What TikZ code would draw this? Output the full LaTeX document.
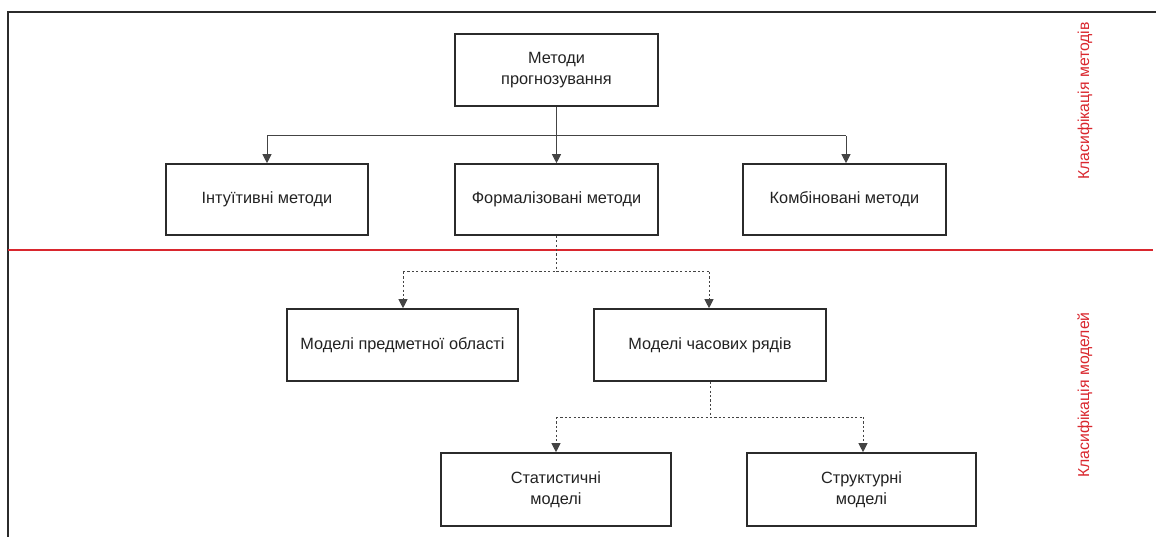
\documentclass[tikz,border=0pt]{standalone}
\usepackage{fontspec}
\setmainfont{Liberation Sans}
\usetikzlibrary{arrows.meta}
\definecolor{boxline}{HTML}{2B2B2B}
\definecolor{connline}{HTML}{444444}
\definecolor{txt}{HTML}{222222}
\definecolor{redline}{HTML}{D9272E}
\tikzset{
  x=1pt, y=-1pt,
  boxnode/.style={draw=boxline, line width=1.6pt, rectangle, align=center, text=txt,
     font=\fontsize{16.3}{21}\selectfont, inner sep=0pt},
  conn/.style={draw=connline, line width=1pt},
  solidarrow/.style={conn, -{Triangle[length=9pt,width=9pt]}},
  dasharrow/.style={conn, dash pattern=on 2.2pt off 2.2pt, -{Triangle[length=9pt,width=9pt]}},
  dashline/.style={conn, dash pattern=on 2.2pt off 2.2pt},
  sidelabel/.style={text=redline, rotate=90, font=\fontsize{15.8}{18}\selectfont},
}
\begin{document}
\begin{tikzpicture}
\useasboundingbox (0,0) rectangle (1156,537);
% frame
\draw[draw=boxline, line width=1.4pt] (8,537) -- (8,12) -- (1156,12);
\draw[draw=redline, line width=2pt] (8,250) -- (1153,250);

% nodes
\node[boxnode, minimum width=203pt, minimum height=72pt] (top) at (556.5,70) {Методи\\прогнозування};
\node[boxnode, minimum width=202pt, minimum height=71pt] (int) at (267,199.5) {Інтуїтивні методи};
\node[boxnode, minimum width=203pt, minimum height=71pt] (form) at (556.5,199.5) {Формалізовані методи};
\node[boxnode, minimum width=203pt, minimum height=71pt] (komb) at (844.5,199.5) {Комбіновані методи};
\node[boxnode, minimum width=231pt, minimum height=72pt] (pred) at (402.5,345) {Моделі предметної області};
\node[boxnode, minimum width=232pt, minimum height=72pt] (chas) at (710,345) {Моделі часових рядів};
\node[boxnode, minimum width=230pt, minimum height=73pt] (stat) at (556,489.5) {Статистичні\\моделі};
\node[boxnode, minimum width=229pt, minimum height=73pt] (strk) at (861.5,489.5) {Структурні\\моделі};

\node[sidelabel] (lab1) at (1085,101) {Класифікація методів};
\node[sidelabel] (lab2) at (1085,395) {Класифікація моделей};

% connectors, top level
\coordinate (b1) at (556.5,136);
\coordinate (bl) at (267,136);
\coordinate (br) at (846,136);
\draw[conn] (top.south) -- (b1);
\draw[solidarrow] (b1) -- (form.north);
\draw[conn] (bl) -- (br);
\draw[solidarrow] (bl) -- (int.north);
\draw[solidarrow] (br) -- (komb.north -| br);

% dashed, second level
\coordinate (d1) at (556.5,272);
\coordinate (dl) at (403,272);
\coordinate (dr) at (709,272);
\draw[dashline] (form.south) -- (d1);
\draw[dashline] (dl) -- (dr);
\draw[dasharrow] (dl) -- (pred.north -| dl);
\draw[dasharrow] (dr) -- (chas.north -| dr);

% dashed, third level
\coordinate (e1) at (710,417);
\coordinate (el) at (556,417);
\coordinate (er) at (863,417);
\draw[dashline] (chas.south) -- (e1);
\draw[dashline] (el) -- (er);
\draw[dasharrow] (el) -- (stat.north -| el);
\draw[dasharrow] (er) -- (strk.north -| er);
\end{tikzpicture}
\end{document}
